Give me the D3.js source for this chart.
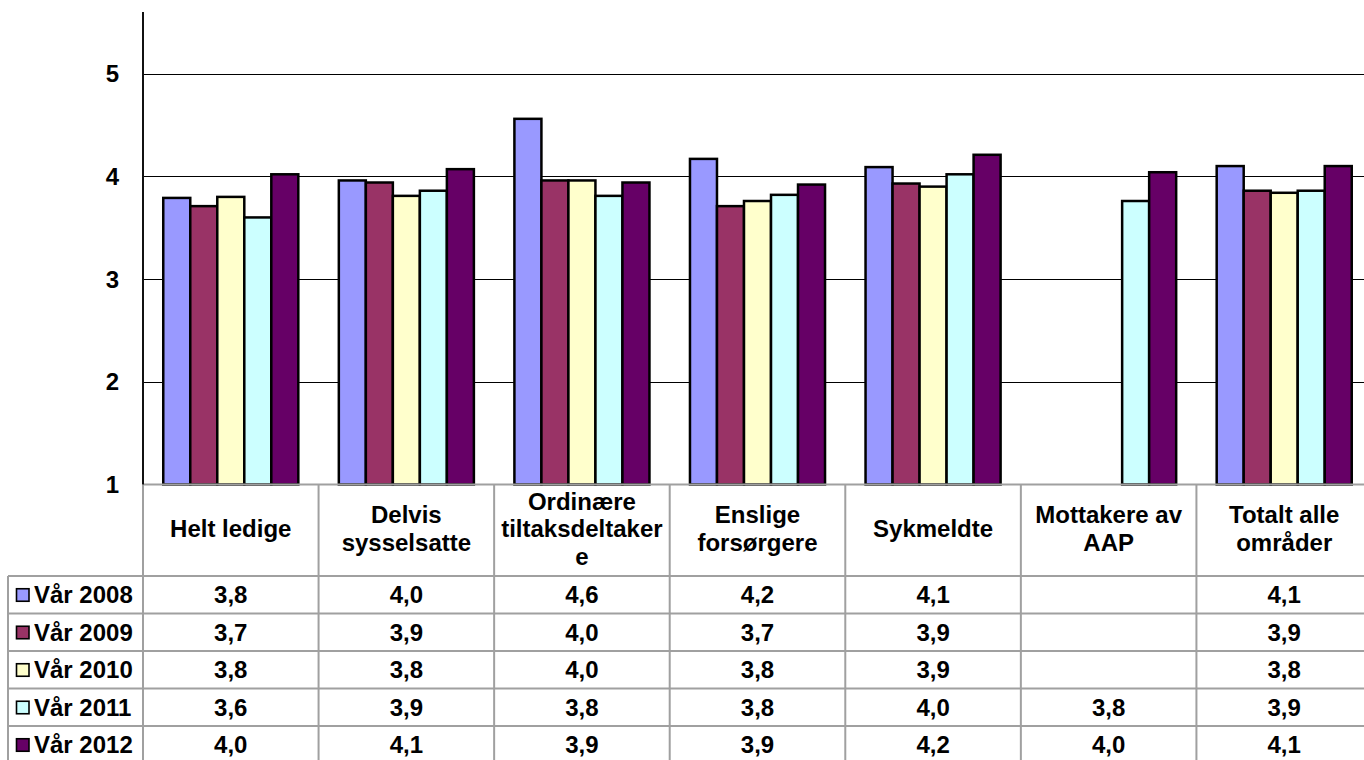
<!DOCTYPE html>
<html>
<head>
<meta charset="utf-8">
<script src="https://cdn.jsdelivr.net/npm/d3@7"></script>
<style>
    body { margin: 0; background: #fff; }
    svg { display: block; font-family: 'Liberation Sans', Arial, sans-serif; }
</style>
</head>
<body>
<div id="chart"></div>
<script>
const categories = [
    ['Helt ledige'],
    ['Delvis', 'sysselsatte'],
    ['Ordinære', 'tiltaksdeltaker', 'e'],
    ['Enslige', 'forsørgere'],
    ['Sykmeldte'],
    ['Mottakere av', 'AAP'],
    ['Totalt alle', 'områder'],
];
const seriesNames = ['Vår 2008', 'Vår 2009', 'Vår 2010', 'Vår 2011', 'Vår 2012'];
const seriesColors = ['#9999ff', '#993366', '#ffffcc', '#ccffff', '#660066'];

const vaar2008 = [3.79, 3.96, 4.56, 4.17, 4.09, null, 4.1];
const vaar2009 = [3.71, 3.94, 3.96, 3.71, 3.93, null, 3.86];
const vaar2010 = [3.8, 3.81, 3.96, 3.76, 3.9, null, 3.84];
const vaar2011 = [3.6, 3.86, 3.81, 3.82, 4.02, 3.76, 3.86];
const vaar2012 = [4.02, 4.07, 3.94, 3.92, 4.21, 4.04, 4.1];
const seriesValues = [vaar2008, vaar2009, vaar2010, vaar2011, vaar2012];

const yTicks = [1, 2, 3, 4, 5];

const W = 1364, H = 760;
const plot = { left: 143, right: 1372, top: 12, bottom: 484.5 };
const headerH = 91.5;
const rowH = 37.5;
const tableLeft = 8;
const gridColor = '#a0a0a0';

const svg = d3.select('#chart').append('svg').attr('width', W).attr('height', H);

const x = d3.scaleBand()
    .domain(d3.range(categories.length))
    .range([plot.left, plot.right]);

const xSub = d3.scaleBand()
    .domain(d3.range(seriesNames.length))
    .range([0, x.bandwidth()])
    .paddingOuter(0.75);

const y = d3.scaleLinear().domain([1, 5.6]).range([plot.bottom, plot.top]);

// gridlines
svg.append('g')
    .selectAll('line')
    .data(yTicks.filter((t) => t > 1))
    .enter()
    .append('line')
    .attr('x1', plot.left)
    .attr('x2', plot.right)
    .attr('y1', (d) => Math.round(y(d)) + 0.5)
    .attr('y2', (d) => Math.round(y(d)) + 0.5)
    .style('stroke', '#000')
    .style('stroke-width', 1);

// y tick labels
svg.append('g')
    .selectAll('text')
    .data(yTicks)
    .enter()
    .append('text')
    .attr('x', 119)
    .attr('y', (d) => y(d) + 8.5)
    .attr('text-anchor', 'end')
    .style('font-size', '24px')
    .style('font-weight', 'bold')
    .text((d) => d);

// bars
const bars = [];
seriesValues.forEach((vals, s) => {
    vals.forEach((v, c) => {
        if (v !== null) bars.push({ s, c, v });
    });
});

svg.append('g')
    .selectAll('rect')
    .data(bars)
    .enter()
    .append('rect')
    .attr('x', (d) => x(d.c) + xSub(d.s))
    .attr('y', (d) => y(d.v))
    .attr('width', xSub.bandwidth())
    .attr('height', (d) => y(1) - y(d.v))
    .style('fill', (d) => seriesColors[d.s])
    .style('stroke', '#000')
    .style('stroke-width', 2.5);

// table
const tableTop = plot.bottom;
const rowsTop = tableTop + headerH;
const rowYs = d3.range(seriesNames.length + 1).map((i) => rowsTop + i * rowH);
const table = svg.append('g');

table.append('line')
    .attr('x1', plot.left)
    .attr('x2', plot.right)
    .attr('y1', tableTop)
    .attr('y2', tableTop)
    .style('stroke', gridColor)
    .style('stroke-width', 2);

table.selectAll('.hline')
    .data(rowYs)
    .enter()
    .append('line')
    .attr('x1', tableLeft)
    .attr('x2', plot.right)
    .attr('y1', (d) => d)
    .attr('y2', (d) => d)
    .style('stroke', gridColor)
    .style('stroke-width', 2);

const colEdges = d3.range(categories.length).map((c) => x(c)).concat([plot.right]);
table.selectAll('.vline')
    .data(colEdges)
    .enter()
    .append('line')
    .attr('x1', (d) => d)
    .attr('x2', (d) => d)
    .attr('y1', tableTop)
    .attr('y2', rowYs[rowYs.length - 1])
    .style('stroke', gridColor)
    .style('stroke-width', 2);

table.append('line')
    .attr('x1', tableLeft)
    .attr('x2', tableLeft)
    .attr('y1', rowsTop)
    .attr('y2', rowYs[rowYs.length - 1])
    .style('stroke', gridColor)
    .style('stroke-width', 2);

// y axis line
svg.append('line')
    .attr('x1', plot.left)
    .attr('x2', plot.left)
    .attr('y1', y(5.6))
    .attr('y2', plot.bottom)
    .style('stroke', '#111')
    .style('stroke-width', 2);

// category headers
const lineH = 27.5;
const headerMid = tableTop + 52.5;
categories.forEach((lines, c) => {
    const t = table.append('text')
        .attr('text-anchor', 'middle')
        .style('font-size', '24px')
        .style('font-weight', 'bold');
    lines.forEach((ln, i) => {
        t.append('tspan')
            .attr('x', x(c) + x.bandwidth() / 2)
            .attr('y', headerMid - ((lines.length - 1) * lineH) / 2 + i * lineH)
            .text(ln);
    });
});

// rows
const fmt = (v) => v.toFixed(1).replace('.', ',');
seriesNames.forEach((name, s) => {
    const rowMid = rowYs[s] + rowH / 2;
    table.append('rect')
        .attr('x', 16.5)
        .attr('y', rowMid - 6)
        .attr('width', 12.5)
        .attr('height', 12.5)
        .style('fill', seriesColors[s])
        .style('stroke', '#000')
        .style('stroke-width', 1.6);
    table.append('text')
        .attr('x', 34)
        .attr('y', rowMid + 8.5)
        .style('font-size', '24px')
        .style('font-weight', 'bold')
        .text(name);
    table.selectAll(null)
        .data(seriesValues[s].map((v, c) => ({ v, c })).filter((d) => d.v !== null))
        .enter()
        .append('text')
        .attr('x', (d) => x(d.c) + x.bandwidth() / 2)
        .attr('y', rowMid + 8.5)
        .attr('text-anchor', 'middle')
        .style('font-size', '24px')
        .style('font-weight', 'bold')
        .text((d) => fmt(d.v));
});
</script>
</body>
</html>
